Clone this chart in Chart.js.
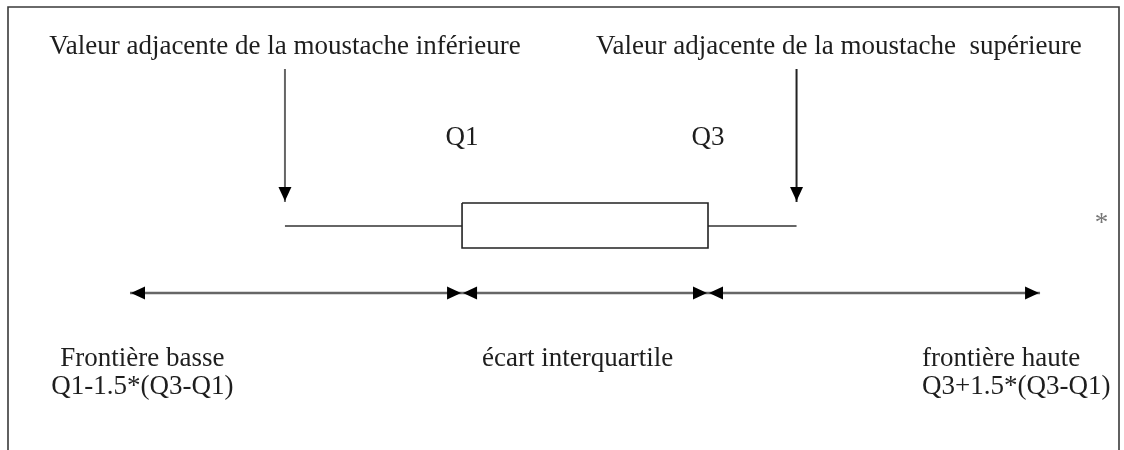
<!DOCTYPE html>
<html>
<head>
<meta charset="utf-8">
<script src="https://cdn.jsdelivr.net/npm/chart.js@4.4.1/dist/chart.umd.min.js"></script>
<style>
  html, body { margin: 0; padding: 0; background: #fff; }
  #wrap { width: 1124px; height: 450px; }
</style>
</head>
<body>
<div id="wrap"><canvas id="chart" width="1124" height="450"></canvas></div>
<script>
// box plot summary, in diagram units (Q1 = 10, Q3 = 20)
const statNames  = ['lowerFence', 'whiskerLow', 'q1', 'q3', 'whiskerHigh', 'upperFence'];
const statValues = [-3.5, 2.8, 10, 20, 23.6, 33.5];
const outlierValues = [36];

// annotation texts and where they sit on the value axis
const labelTexts = [
  'Valeur adjacente de la moustache inférieure',
  'Valeur adjacente de la moustache  supérieure',
  'Q1', 'Q3',
  'Frontière basse', 'Q1-1.5*(Q3-Q1)',
  'écart interquartile',
  'frontière haute', 'Q3+1.5*(Q3-Q1)'
];
const labelValues = [2.8, 15.45, 10, 20, -3, -3, 14.7, 28.7, 28.7];

const st = {};
statNames.forEach((n, i) => { st[n] = statValues[i]; });

// vertical layout (y scale is in px rows of the figure)
const rows = {
  topText: 54, pointerTop: 69, pointerTip: 202, qLabel: 145,
  boxTop: 203, boxMid: 226, boxBottom: 248, range: 293,
  bottom1: 366, bottom2: 394, outlier: 218
};
const labelRows  = ['topText', 'topText', 'qLabel', 'qLabel', 'bottom1', 'bottom2', 'bottom1', 'bottom1', 'bottom2'];
const labelAlign = ['center', 'left', 'center', 'center', 'center', 'center', 'center', 'left', 'left'];

const FONT = '27px "Liberation Serif", "Times New Roman", serif';

const seg = (x1, y1, x2, y2) => [{ x: x1, y: y1 }, { x: x2, y: y2 }];

const datasets = [
  { // box
    data: [
      { x: st.q1, y: rows.boxTop }, { x: st.q3, y: rows.boxTop },
      { x: st.q3, y: rows.boxBottom }, { x: st.q1, y: rows.boxBottom },
      { x: st.q1, y: rows.boxTop }
    ],
    borderColor: '#222', borderWidth: 1.6
  },
  { data: seg(st.whiskerLow, rows.boxMid, st.q1, rows.boxMid), borderColor: '#333', borderWidth: 1.5 },
  { data: seg(st.q3, rows.boxMid, st.whiskerHigh, rows.boxMid), borderColor: '#333', borderWidth: 1.5 },
  { data: seg(st.whiskerLow, rows.pointerTop, st.whiskerLow, rows.pointerTip), borderColor: '#666', borderWidth: 2, arrowEnd: true },
  { data: seg(st.whiskerHigh, rows.pointerTop, st.whiskerHigh, rows.pointerTip), borderColor: '#222', borderWidth: 2, arrowEnd: true },
  { data: seg(st.lowerFence, rows.range, st.q1, rows.range), borderColor: '#666', borderWidth: 2.5, arrowStart: true, arrowEnd: true },
  { data: seg(st.q1, rows.range, st.q3, rows.range), borderColor: '#666', borderWidth: 2.5, arrowStart: true, arrowEnd: true },
  { data: seg(st.q3, rows.range, st.upperFence, rows.range), borderColor: '#666', borderWidth: 2.5, arrowStart: true, arrowEnd: true },
  { data: outlierValues.map(v => ({ x: v, y: rows.outlier })), showLine: false, outlier: true }
];

function arrowHead(ctx, tip, from) {
  const ang = Math.atan2(tip.y - from.y, tip.x - from.x);
  const len = 14, half = 6.5, inset = 1;
  const tx = tip.x - Math.cos(ang) * inset, ty = tip.y - Math.sin(ang) * inset;
  ctx.save();
  ctx.translate(tx, ty);
  ctx.rotate(ang);
  ctx.beginPath();
  ctx.moveTo(0, 0);
  ctx.lineTo(-len, -half);
  ctx.lineTo(-len, half);
  ctx.closePath();
  ctx.fillStyle = '#000';
  ctx.fill();
  ctx.restore();
}

const diagramPlugin = {
  id: 'diagram',
  beforeDatasetsDraw(chart) {
    const { ctx, chartArea: a } = chart;
    ctx.save();
    ctx.strokeStyle = '#3a3a3a';
    ctx.lineWidth = 1.6;
    ctx.beginPath();
    ctx.moveTo(a.left, a.bottom);
    ctx.lineTo(a.left, a.top);
    ctx.lineTo(a.right, a.top);
    ctx.lineTo(a.right, a.bottom);
    ctx.stroke();
    ctx.restore();
  },
  afterDatasetsDraw(chart) {
    const { ctx } = chart;
    const x = chart.scales.x, y = chart.scales.y;
    chart.data.datasets.forEach((ds, i) => {
      const pts = chart.getDatasetMeta(i).data;
      if (ds.arrowEnd) arrowHead(ctx, pts[pts.length - 1], pts[pts.length - 2]);
      if (ds.arrowStart) arrowHead(ctx, pts[0], pts[1]);
      if (ds.outlier) {
        ctx.save();
        ctx.font = FONT;
        ctx.fillStyle = '#777';
        ctx.textAlign = 'center';
        ctx.textBaseline = 'alphabetic';
        const m = ctx.measureText('*');
        pts.forEach(p => {
          ctx.fillText('*', p.x, p.y + (m.actualBoundingBoxAscent - m.actualBoundingBoxDescent) / 2);
        });
        ctx.restore();
      }
    });
    ctx.save();
    ctx.font = FONT;
    ctx.fillStyle = '#1e1e1e';
    ctx.textBaseline = 'alphabetic';
    labelTexts.forEach((t, i) => {
      ctx.textAlign = labelAlign[i];
      ctx.fillText(t, x.getPixelForValue(labelValues[i]), y.getPixelForValue(rows[labelRows[i]]));
    });
    ctx.restore();
  }
};

new Chart(document.getElementById('chart'), {
  type: 'scatter',
  data: { datasets: datasets },
  options: {
    responsive: false,
    animation: false,
    events: [],
    layout: { padding: { left: 8, top: 7, right: 5, bottom: 0 } },
    datasets: {
      scatter: { showLine: true, pointRadius: 0, borderCapStyle: 'butt', borderJoinStyle: 'miter' }
    },
    plugins: { legend: { display: false }, tooltip: { enabled: false } },
    scales: {
      x: { type: 'linear', min: -8.46, max: 36.71, display: false },
      y: { type: 'linear', min: 7, max: 450, reverse: true, display: false }
    }
  },
  plugins: [diagramPlugin]
});
</script>
</body>
</html>
